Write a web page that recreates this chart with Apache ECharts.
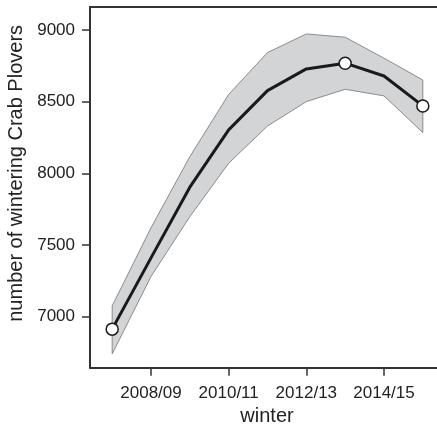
<!DOCTYPE html>
<html>
<head>
<meta charset="utf-8">
<script src="https://cdn.jsdelivr.net/npm/echarts@6/dist/echarts.min.js"></script>
<style>
html,body{margin:0;padding:0;background:#fff;}
#chart{width:437px;height:425px;}
</style>
</head>
<body>
<div id="chart"></div>
<script>
// winter start years (2007 = winter 2007/08)
var winters = [2007, 2008, 2009, 2010, 2011, 2012, 2013, 2014, 2015];
var meanCount = [6913, 7410, 7903, 8303, 8577, 8728, 8768, 8679, 8470];
var upperCI = [7075, 7620, 8116, 8550, 8842, 8972, 8949, 8803, 8651];
var lowerCI = [6740, 7280, 7698, 8070, 8330, 8500, 8586, 8540, 8284];
var markedWinters = [2007, 2013, 2015];
var xTickValues = [2008, 2010, 2012, 2014];
var yTickValues = [7000, 7500, 8000, 8500, 9000];

function winterLabel(v) {
  var next = (v + 1) % 100;
  return v + '/' + (next < 10 ? '0' + next : '' + next);
}

var bandData = winters.map(function (w, i) { return [w, lowerCI[i], upperCI[i]]; });
var lineData = winters.map(function (w, i) {
  var marked = markedWinters.indexOf(w) >= 0;
  return {
    value: [w, meanCount[i]],
    symbol: marked ? 'circle' : 'none',
    symbolSize: marked ? 12 : 0
  };
});

var FONT = '"Liberation Sans", Arial, sans-serif';
var chart = echarts.init(document.getElementById('chart'), null, {renderer: 'canvas'});
chart.setOption({
  animation: false,
  grid: {left: 90, right: 0, top: 7, bottom: 57.3, containLabel: false, outerBoundsMode: 'none'},
  xAxis: [{
    type: 'value',
    min: 2006.429,
    max: 2015.365,
    position: 'bottom',
    name: 'winter',
    nameLocation: 'middle',
    nameGap: 39,
    nameTextStyle: {fontFamily: FONT, fontSize: 20, color: '#222', padding: [0, 0, 0, 7]},
    axisLine: {show: true, lineStyle: {color: '#333', width: 2}},
    axisTick: {show: true, inside: false, length: 8, customValues: xTickValues, lineStyle: {color: '#333', width: 1.5}},
    axisLabel: {show: true, margin: 17, customValues: xTickValues, fontFamily: FONT, fontSize: 17, color: '#222',
      formatter: function (v) { return winterLabel(v); }},
    splitLine: {show: false}
  }, {
    type: 'value',
    min: 2006.429,
    max: 2015.365,
    position: 'top',
    axisLine: {show: true, lineStyle: {color: '#333', width: 2}},
    axisTick: {show: false},
    axisLabel: {show: false},
    splitLine: {show: false}
  }],
  yAxis: {
    type: 'value',
    min: 6644,
    max: 9160,
    name: 'number of wintering Crab Plovers',
    nameLocation: 'middle',
    nameGap: 62,
    nameTextStyle: {fontFamily: FONT, fontSize: 20, color: '#222', padding: [0, 0, 0, 28]},
    axisLine: {show: true, lineStyle: {color: '#333', width: 2}},
    axisTick: {show: true, inside: false, length: 8, customValues: yTickValues, lineStyle: {color: '#333', width: 1.5}},
    axisLabel: {show: true, margin: 15, customValues: yTickValues, fontFamily: FONT, fontSize: 17, color: '#222',
      formatter: function (v) { return String(v); }},
    splitLine: {show: false}
  },
  series: [{
    type: 'custom',
    xAxisIndex: 0,
    data: bandData,
    encode: {x: 0, y: [1, 2]},
    z: 1,
    renderItem: function (params, api) {
      if (params.dataIndex !== 0) return null;
      var pts = [];
      var i;
      for (i = 0; i < bandData.length; i++) pts.push(api.coord([bandData[i][0], bandData[i][2]]));
      for (i = bandData.length - 1; i >= 0; i--) pts.push(api.coord([bandData[i][0], bandData[i][1]]));
      return {
        type: 'polygon',
        shape: {points: pts},
        style: {fill: '#d3d4d6', stroke: '#8a8a8a', lineWidth: 1}
      };
    }
  }, {
    type: 'line',
    xAxisIndex: 0,
    data: lineData,
    z: 5,
    lineStyle: {color: '#1a1a1a', width: 3},
    itemStyle: {color: '#ffffff', borderColor: '#1a1a1a', borderWidth: 1.5},
    showSymbol: true,
    emphasis: {disabled: true}
  }]
});
</script>
</body>
</html>
